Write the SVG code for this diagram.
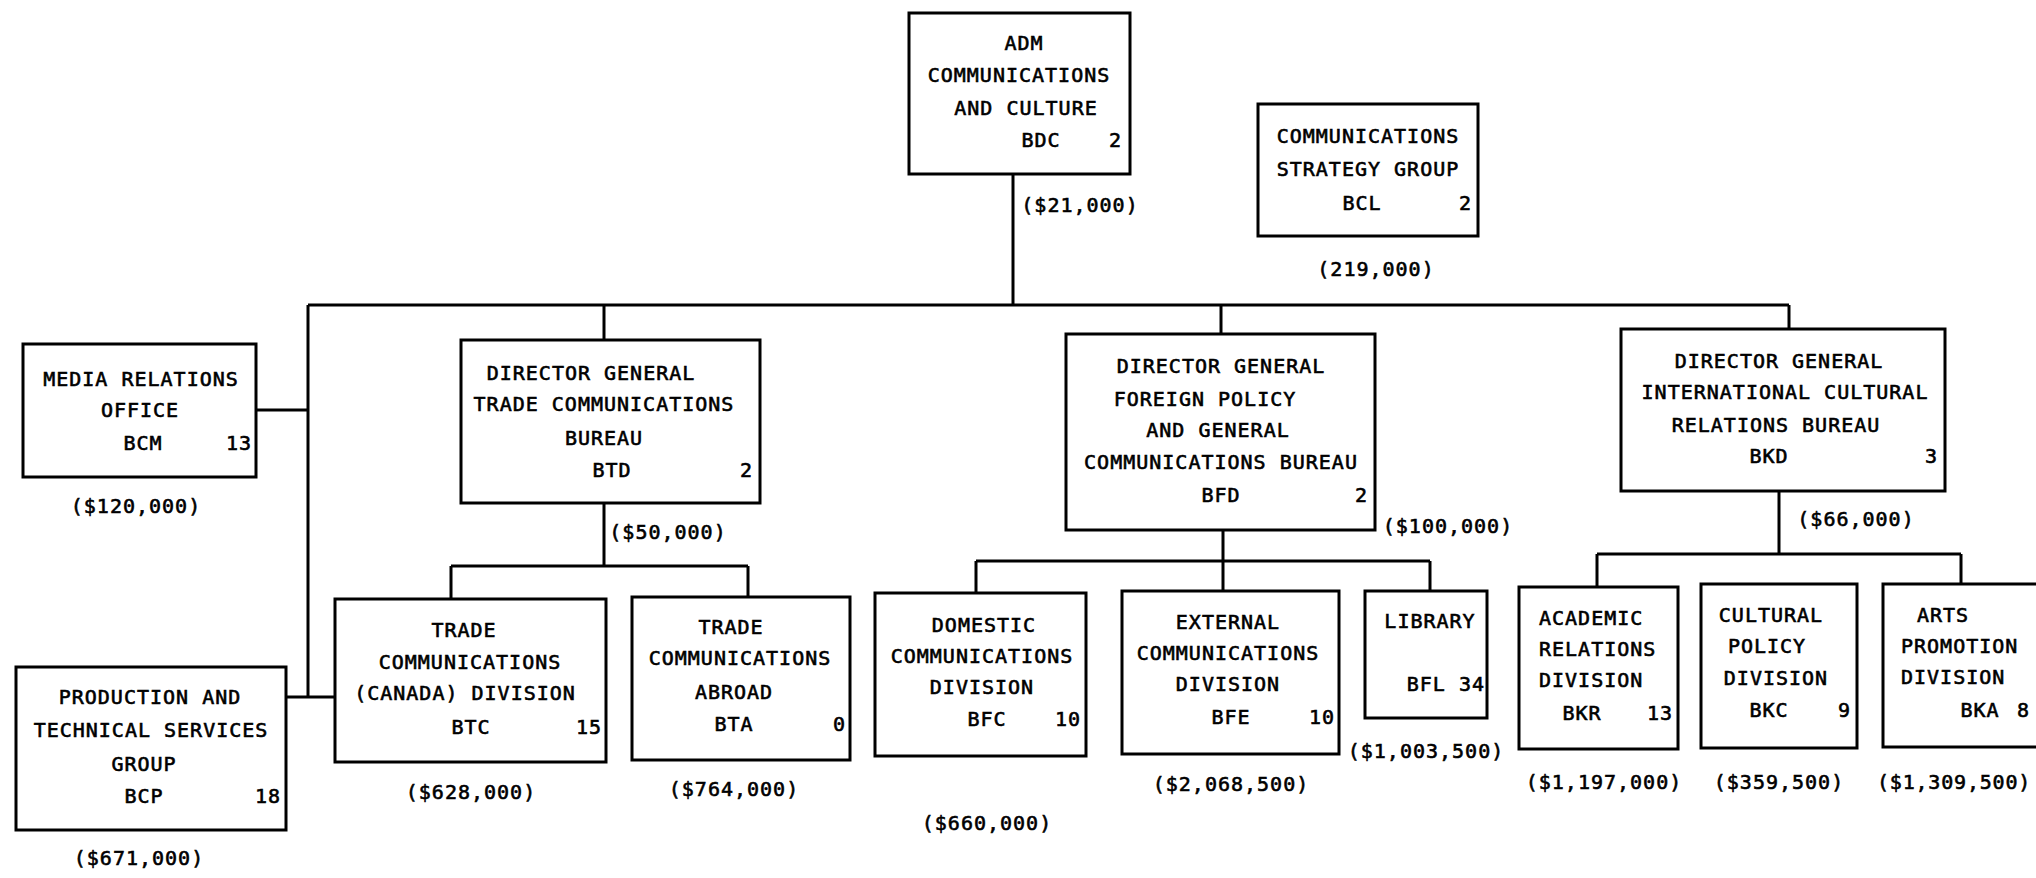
<svg xmlns="http://www.w3.org/2000/svg" width="2036" height="878" viewBox="0 0 2036 878">
<style>
text{font-family:"DejaVu Sans Mono","Liberation Mono",monospace;font-size:20px;letter-spacing:1px;fill:#000;stroke:#000;stroke-width:0.6px;text-anchor:middle}
.e{text-anchor:end}
.s{text-anchor:start}
rect{fill:none;stroke:#000;stroke-width:3}
#connectors path{fill:none;stroke:#000;stroke-width:3}
</style>
<rect x="0" y="0" width="2036" height="878" style="fill:#fff;stroke:none"/>
<g id="connectors">
<path d="M1013 174V305"/>
<path d="M308 305H1789"/>
<path d="M308 305V697"/>
<path d="M256 410H308"/>
<path d="M286 697H335"/>
<path d="M604 305V340"/>
<path d="M604 503V566M451 566H748M451 566V599M748 566V597"/>
<path d="M1221 305V334"/>
<path d="M1223 530V561M976 561H1430M976 561V593M1223 561V591M1430 561V591"/>
<path d="M1789 305V329"/>
<path d="M1779 491V554M1597 554H1961M1597 554V587M1961 554V584"/>
</g>
<g id="adm">
<rect x="909" y="13" width="221" height="161"/>
<text x="1024" y="50">ADM</text>
<text x="1019" y="82">COMMUNICATIONS</text>
<text x="1026" y="115">AND CULTURE</text>
<text x="1041" y="147">BDC</text>
<text class="e" x="1122" y="147">2</text>
<text x="1080" y="212">($21,000)</text>
</g>
<g id="csg">
<rect x="1258" y="104" width="220" height="132"/>
<text x="1368" y="143">COMMUNICATIONS</text>
<text x="1368" y="176">STRATEGY GROUP</text>
<text x="1362" y="210">BCL</text>
<text class="e" x="1472" y="210">2</text>
<text x="1376" y="276">(219,000)</text>
</g>
<g id="mro">
<rect x="23" y="344" width="233" height="133"/>
<text x="141" y="386">MEDIA RELATIONS</text>
<text x="140" y="417">OFFICE</text>
<text x="143" y="450">BCM</text>
<text class="e" x="252" y="450">13</text>
<text x="136" y="513">($120,000)</text>
</g>
<g id="pts">
<rect x="16" y="667" width="270" height="163"/>
<text x="150" y="704">PRODUCTION AND</text>
<text x="151" y="737">TECHNICAL SERVICES</text>
<text x="144" y="771">GROUP</text>
<text x="144" y="803">BCP</text>
<text class="e" x="281" y="803">18</text>
<text x="139" y="865">($671,000)</text>
</g>
<g id="dgtcb">
<rect x="461" y="340" width="299" height="163"/>
<text x="591" y="380">DIRECTOR GENERAL</text>
<text x="604" y="411">TRADE COMMUNICATIONS</text>
<text x="604" y="445">BUREAU</text>
<text x="612" y="477">BTD</text>
<text class="e" x="753" y="477">2</text>
<text x="668" y="539">($50,000)</text>
</g>
<g id="tccd">
<rect x="335" y="599" width="271" height="163"/>
<text x="464" y="637">TRADE</text>
<text x="470" y="669">COMMUNICATIONS</text>
<text x="465" y="700">(CANADA) DIVISION</text>
<text x="471" y="734">BTC</text>
<text class="e" x="602" y="734">15</text>
<text x="471" y="799">($628,000)</text>
</g>
<g id="tca">
<rect x="632" y="597" width="218" height="163"/>
<text x="731" y="634">TRADE</text>
<text x="740" y="665">COMMUNICATIONS</text>
<text x="734" y="699">ABROAD</text>
<text x="734" y="731">BTA</text>
<text class="e" x="846" y="731">0</text>
<text x="734" y="796">($764,000)</text>
</g>
<g id="dgfp">
<rect x="1066" y="334" width="309" height="196"/>
<text x="1221" y="373">DIRECTOR GENERAL</text>
<text x="1205" y="406">FOREIGN POLICY</text>
<text x="1218" y="437">AND GENERAL</text>
<text x="1221" y="469">COMMUNICATIONS BUREAU</text>
<text x="1221" y="502">BFD</text>
<text class="e" x="1368" y="502">2</text>
<text x="1448" y="533">($100,000)</text>
</g>
<g id="dcd">
<rect x="875" y="593" width="211" height="163"/>
<text x="984" y="632">DOMESTIC</text>
<text x="982" y="663">COMMUNICATIONS</text>
<text x="982" y="694">DIVISION</text>
<text x="987" y="726">BFC</text>
<text class="e" x="1081" y="726">10</text>
<text x="987" y="830">($660,000)</text>
</g>
<g id="ecd">
<rect x="1122" y="591" width="217" height="163"/>
<text x="1228" y="629">EXTERNAL</text>
<text x="1228" y="660">COMMUNICATIONS</text>
<text x="1228" y="691">DIVISION</text>
<text x="1231" y="724">BFE</text>
<text class="e" x="1335" y="724">10</text>
<text x="1231" y="791">($2,068,500)</text>
</g>
<g id="library">
<rect x="1365" y="591" width="122" height="127"/>
<text x="1430" y="628">LIBRARY</text>
<text class="e" x="1485" y="691">BFL 34</text>
<text x="1426" y="758">($1,003,500)</text>
</g>
<g id="dgicr">
<rect x="1621" y="329" width="324" height="162"/>
<text x="1779" y="368">DIRECTOR GENERAL</text>
<text x="1785" y="399">INTERNATIONAL CULTURAL</text>
<text x="1776" y="432">RELATIONS BUREAU</text>
<text x="1769" y="463">BKD</text>
<text class="e" x="1938" y="463">3</text>
<text x="1856" y="526">($66,000)</text>
</g>
<g id="acr">
<rect x="1519" y="587" width="159" height="162"/>
<text class="s" x="1539" y="625">ACADEMIC</text>
<text class="s" x="1539" y="656">RELATIONS</text>
<text class="s" x="1539" y="687">DIVISION</text>
<text x="1582" y="720">BKR</text>
<text class="e" x="1673" y="720">13</text>
<text x="1604" y="789">($1,197,000)</text>
</g>
<g id="cpd">
<rect x="1701" y="584" width="156" height="164"/>
<text x="1771" y="622">CULTURAL</text>
<text x="1767" y="653">POLICY</text>
<text x="1776" y="685">DIVISION</text>
<text x="1769" y="717">BKC</text>
<text class="e" x="1851" y="717">9</text>
<text x="1779" y="789">($359,500)</text>
</g>
<g id="apd">
<rect x="1883" y="584" width="160" height="163"/>
<text x="1943" y="622">ARTS</text>
<text class="s" x="1901" y="653">PROMOTION</text>
<text class="s" x="1901" y="684">DIVISION</text>
<text x="1980" y="717">BKA</text>
<text class="e" x="2030" y="717">8</text>
<text class="s" x="1877" y="789" style="letter-spacing:0.8px">($1,309,500)</text>
</g>
</svg>
